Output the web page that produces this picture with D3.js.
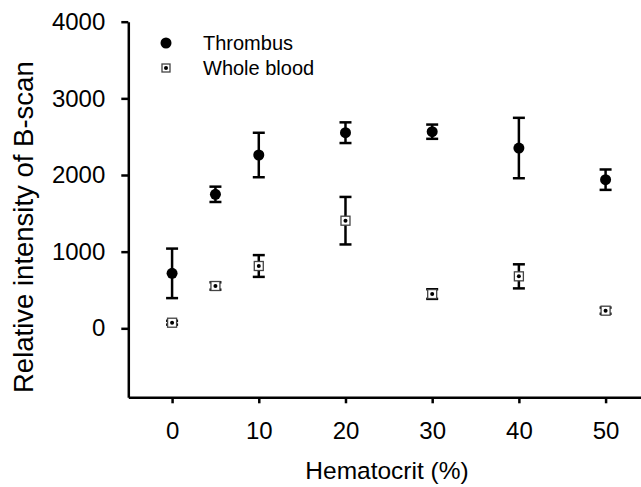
<!DOCTYPE html>
<html>
<head>
<meta charset="utf-8">
<script src="https://cdn.jsdelivr.net/npm/d3@7"></script>
<style>
  body { margin: 0; background: #fff; }
  svg { font-family: "Liberation Sans", Arial, sans-serif; }
</style>
</head>
<body>
<svg width="641" height="487"></svg>
<script>
const hematocrit = [0, 5, 10, 20, 30, 40, 50];
const thrombusMean = [717, 1748, 2261, 2552, 2565, 2352, 1939];
const thrombusErr = [323, 100, 290, 135, 93, 394, 133];
const wholeBloodMean = [73, 552, 813, 1404, 447, 678, 230];
const wholeBloodErr = [25, 48, 142, 310, 63, 157, 40];
const xTicks = [0, 10, 20, 30, 40, 50];
const yTicks = [0, 1000, 2000, 3000, 4000];

const svg = d3.select("svg");

const x = d3.scaleLinear().domain([-5.05, 54.5]).range([128.3, 644.6]);
const y = d3.scaleLinear().domain([-900, 4000]).range([397.3, 21.7]);

// axes
svg.append("g")
  .attr("transform", `translate(0,${y(-900)})`)
  .call(d3.axisBottom(x).tickValues(xTicks).tickFormat(d3.format("d")).tickSize(6).tickPadding(19).tickSizeOuter(0))
  .call(g => g.select(".domain").attr("stroke-width", 2.5))
  .call(g => g.selectAll(".tick line").attr("stroke-width", 2.5))
  .call(g => g.selectAll("text").attr("font-size", 24).attr("fill", "#000"));

svg.append("g")
  .attr("transform", `translate(${x(-5.05)},0)`)
  .call(d3.axisLeft(y).tickValues(yTicks).tickFormat(d3.format("d")).tickSize(7).tickPadding(16).tickSizeOuter(0))
  .call(g => g.select(".domain").attr("stroke-width", 2.5))
  .call(g => g.selectAll(".tick line").attr("stroke-width", 2.5))
  .call(g => g.selectAll("text").attr("font-size", 24).attr("fill", "#000"));

svg.append("text")
  .attr("x", 387).attr("y", 479)
  .attr("text-anchor", "middle")
  .attr("font-size", 24.5)
  .text("Hematocrit (%)");

svg.append("text")
  .attr("transform", "translate(33,393) rotate(-90)")
  .attr("text-anchor", "start")
  .attr("font-size", 27.5)
  .text("Relative intensity of B-scan");

// error bars
function errorBars(means, errs) {
  const g = svg.append("g").attr("stroke", "#000").attr("stroke-width", 2.5);
  hematocrit.forEach((h, i) => {
    const cx = x(h), top = y(means[i] + errs[i]), bot = y(means[i] - errs[i]);
    g.append("line").attr("x1", cx).attr("x2", cx).attr("y1", top).attr("y2", bot);
    g.append("line").attr("x1", cx - 6).attr("x2", cx + 6).attr("y1", top).attr("y2", top);
    g.append("line").attr("x1", cx - 6).attr("x2", cx + 6).attr("y1", bot).attr("y2", bot);
  });
}
errorBars(thrombusMean, thrombusErr);
errorBars(wholeBloodMean, wholeBloodErr);

svg.append("g").selectAll("circle")
  .data(hematocrit)
  .join("circle")
  .attr("cx", d => x(d))
  .attr("cy", (d, i) => y(thrombusMean[i]))
  .attr("r", 5.5)
  .attr("fill", "#000");

function squareMarker(g, cx, cy, s) {
  g.append("rect")
    .attr("x", cx - s / 2).attr("y", cy - s / 2)
    .attr("width", s).attr("height", s)
    .attr("fill", "#fff").attr("stroke", "#444").attr("stroke-width", 1.3);
  g.append("circle").attr("cx", cx).attr("cy", cy).attr("r", 2).attr("fill", "#000");
}
const sq = svg.append("g");
hematocrit.forEach((h, i) => squareMarker(sq, x(h), y(wholeBloodMean[i]), 9));

// legend
const legend = svg.append("g");
legend.append("circle").attr("cx", 166).attr("cy", 43).attr("r", 5.5).attr("fill", "#000");
squareMarker(legend, 166, 68, 8);
legend.append("text").attr("x", 203).attr("y", 50).attr("font-size", 20).text("Thrombus");
legend.append("text").attr("x", 203).attr("y", 75).attr("font-size", 20).text("Whole blood");
</script>
</body>
</html>
